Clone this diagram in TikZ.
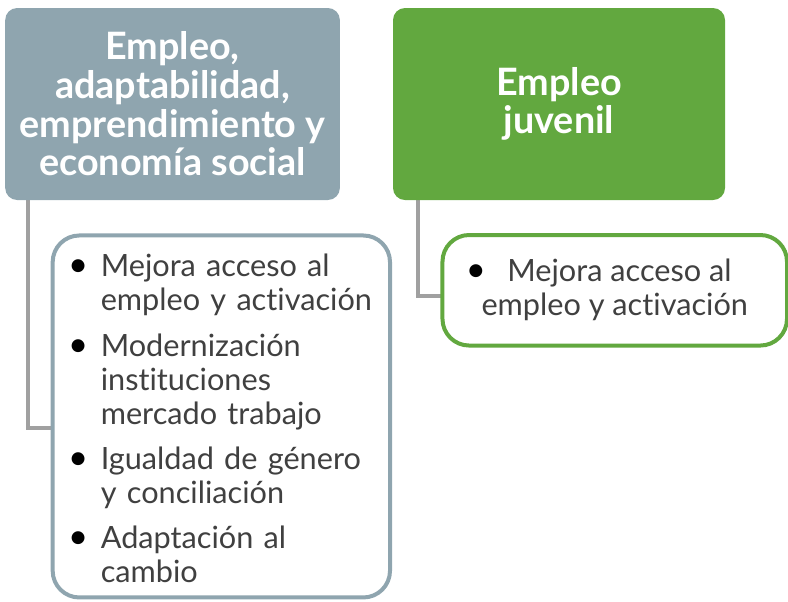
\documentclass[tikz,border=0pt]{standalone}
\usepackage{fontspec}
\setmainfont{Lato}[Ligatures=NoCommon]
\usetikzlibrary{positioning,backgrounds}
\definecolor{grisazul}{HTML}{8FA5AF}
\definecolor{verde}{HTML}{62A83F}
\definecolor{conector}{HTML}{A0A0A0}
\definecolor{textogris}{HTML}{404040}
\newcommand{\punto}{\textcolor{black}{\fontsize{26}{26}\selectfont\textbullet}}
\newcommand{\vineta}{\makebox[24.5pt][l]{\punto}}

\begin{document}
\begin{tikzpicture}[
            every node/.style={ outer sep=0pt },
            cabecera/.style={ rounded corners=9pt, minimum width=250pt, minimum height=144pt,
                              text=white, align=center, font=\fontsize{28.3}{29}\selectfont\bfseries },
            lista/.style={ draw, line width=3pt, rounded corners=20pt, fill=white,
                           text=textogris, font=\fontsize{23}{25.5}\selectfont },
            rama/.style={ draw=conector, line width=3pt }
        ]
        \useasboundingbox (0,0) rectangle (591pt,-450.75pt);

        \node[cabecera, fill=grisazul, minimum width=251pt] (empleo) at (129.4pt,-78pt)
            {Empleo,\\adaptabilidad,\\emprendimiento y\\economía social};
        \node[cabecera, fill=verde, minimum width=249pt] (juvenil) at (419.25pt,-78pt)
            {Empleo\\juvenil};

        \node[lista, draw=grisazul, minimum width=253pt, minimum height=271.5pt,
              inner xsep=11.6pt, inner ysep=0pt, text width=229.8pt,
              below=26.6pt of empleo.south west, anchor=north west, xshift=35.6pt] (ejes) {%
            \begin{tabular}{@{}l@{}l@{}}
                \vineta & Mejora acceso al\rule{0pt}{27.8pt}\\
                        & empleo y activación\\[8.5pt]
                \vineta & Modernización\\
                        & instituciones\\
                        & mercado trabajo\\[8.5pt]
                \vineta & Igualdad de género\\
                        & y conciliación\\[8.5pt]
                \vineta & Adaptación al\\
                        & cambio
            \end{tabular}};
        \node[lista, draw=verde, minimum width=258.4pt, minimum height=82.9pt, align=center,
              below=26.25pt of juvenil.south west, anchor=north west, xshift=37.1pt] (ejejuv)
            {\punto\hspace{16pt}Mejora acceso al\hspace*{24pt}\\empleo y activación};

        \begin{scope}[on background layer]
            \draw[rama] ([xshift=16.9pt]empleo.south west) |- ([yshift=-9pt]ejes.west);
            \draw[rama] ([xshift=19.1pt]juvenil.south west) |- ([yshift=-4pt]ejejuv.west);
        \end{scope}
    \end{tikzpicture}
\end{document}
